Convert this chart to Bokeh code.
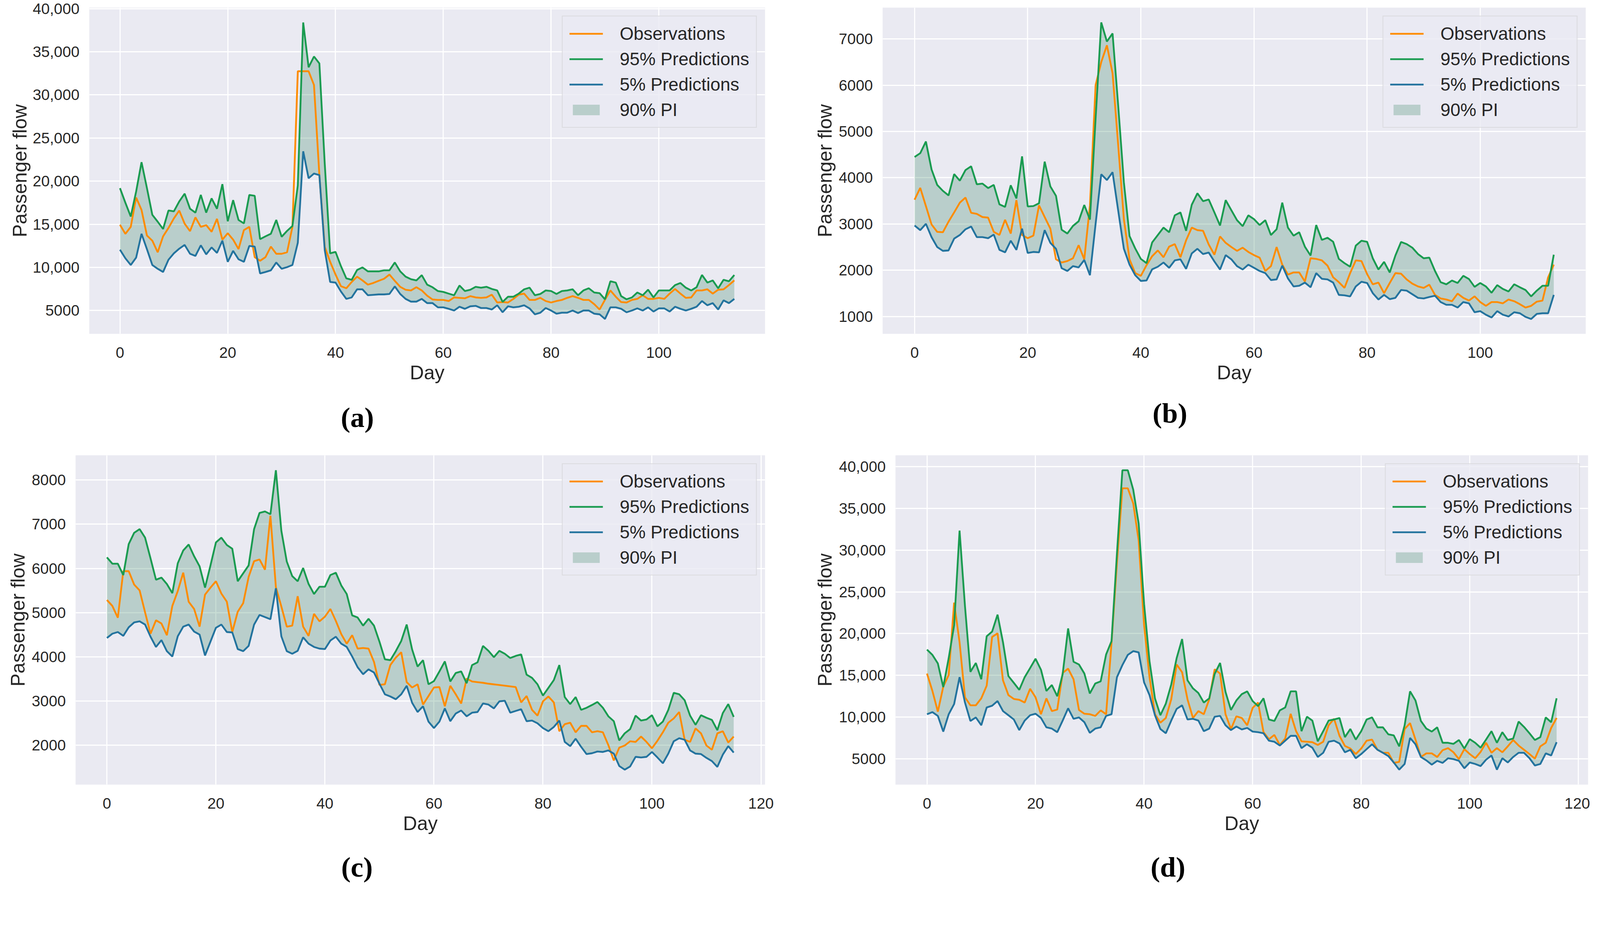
from bokeh.plotting import figure
from bokeh.layouts import column, row
from bokeh.models import FixedTicker, Range1d, Legend, LegendItem, Title
from bokeh.embed import file_html
from bokeh.resources import INLINE

# ---- panel (a) ----
days_a = list(range(115))
obs_a = [14940, 13890, 14700, 18100, 16660, 13700, 13100, 11750, 13600, 14570,
         15680, 16590, 15070, 14200, 15800, 14700, 14900, 14130, 15630, 13220,
         13960, 13220, 12120, 14330, 14700, 11190, 10770, 11190, 12410, 11580,
         11580, 11750, 14700, 32740, 32740, 32740, 31150, 20700, 12370, 10650,
         9170, 7820, 7580, 8310, 8930, 8490, 8000, 8190, 8440, 8680,
         9170, 8440, 7750, 7410, 7330, 7700, 7330, 6720, 6280, 6230,
         6230, 6100, 6520, 6470, 6420, 6670, 6520, 6470, 6520, 6840,
         5930, 5980, 5930, 6350, 6840, 6960, 6230, 6230, 6470, 6100,
         5930, 6100, 6230, 6470, 6670, 6470, 6230, 6230, 5740, 5120,
         6250, 7330, 6600, 5980, 5930, 6230, 6350, 6770, 6350, 6350,
         6470, 6350, 6960, 7500, 6960, 6470, 6520, 7330, 7330, 7460,
         6960, 7410, 7460, 7950, 8490]
upper_a = [19190, 17500, 15900, 18800, 22200, 19200, 16100, 15300, 14450, 16600,
           16500, 17650, 18550, 16800, 16350, 18400, 16350, 18000, 16800, 19650,
           15350, 17800, 15500, 15100, 18400, 18300, 13270, 13600, 13900, 15500,
           13550, 14230, 14800, 19500, 38400, 33200, 34450, 33650, 22000, 11630,
           11800, 10150, 8730, 8560, 9700, 10000, 9540, 9540, 9540, 9660,
           9660, 10570, 9540, 8930, 8630, 8490, 9100, 8000, 7700, 7260,
           7160, 6960, 6770, 7900, 7260, 7410, 7750, 7650, 7750, 7500,
           7330, 6000, 6600, 6600, 6960, 7460, 7650, 6770, 6920, 7330,
           7260, 6920, 7260, 7330, 7460, 6770, 7330, 7580, 7090, 7010,
           6300, 8390, 8240, 6670, 6300, 6520, 7090, 6770, 7410, 6520,
           7330, 7330, 7330, 7950, 8190, 7650, 7330, 7700, 9120, 8240,
           8490, 7580, 8560, 8390, 9120]
lower_a = [12050, 11060, 10280, 11140, 13890, 12120, 10280, 9840, 9470, 10890,
           11630, 12170, 12610, 11580, 11330, 12560, 11510, 12320, 11680, 13100,
           10650, 11920, 10940, 10650, 12490, 12410, 9300, 9470, 9660, 10570,
           9840, 10030, 10280, 12860, 23460, 20340, 20880, 20700, 12000, 8310,
           8240, 7210, 6350, 6520, 7460, 7460, 6770, 6820, 6870, 6870,
           6920, 7800, 6920, 6350, 6030, 6030, 6350, 5860, 5860, 5370,
           5370, 5200, 5000, 5440, 5200, 5490, 5540, 5290, 5290, 5120,
           5610, 4800, 5490, 5370, 5440, 5610, 5250, 4560, 4750, 5290,
           5000, 4630, 4750, 4750, 5000, 4710, 5000, 5000, 4630, 4560,
           4020, 5370, 5370, 5200, 4800, 5000, 5250, 5000, 5370, 4880,
           5250, 5250, 4880, 5440, 5200, 5000, 5200, 5440, 6100, 5610,
           5860, 5120, 6180, 5860, 6350]
xticks_a = [0, 20, 40, 60, 80, 100]
yticks_a = [5000, 10000, 15000, 20000, 25000, 30000, 35000, 40000]
ylabels_a = ["5000", "10,000", "15,000", "20,000", "25,000", "30,000", "35,000", "40,000"]

# ---- panel (b) ----
days_b = list(range(114))
obs_b = [3524, 3780, 3387, 2989, 2829, 2820, 3049, 3250, 3460, 3570,
         3241, 3218, 3149, 3136, 2829, 2761, 3090, 2793, 3515, 2761,
         2692, 2747, 3401, 3149, 2898, 2235, 2166, 2198, 2258, 2541,
         2235, 3400, 6000, 6500, 6863, 6259, 4700, 3100, 2235, 1937,
         1878, 2107, 2303, 2427, 2280, 2509, 2564, 2280, 2646, 2921,
         2866, 2852, 2555, 2335, 2729, 2591, 2500, 2418, 2486, 2395,
         2326, 2271, 1983, 2088, 2500, 2120, 1905, 1951, 1951, 1755,
         2258, 2244, 2212, 2098, 1846, 1741, 1617, 1937, 2212, 2198,
         1915, 1695, 1732, 1503, 1723, 1937, 1924, 1800, 1709, 1649,
         1617, 1686, 1466, 1389, 1366, 1329, 1494, 1402, 1343, 1434,
         1311, 1229, 1311, 1311, 1284, 1366, 1329, 1265, 1192, 1229,
         1320, 1343, 1846, 2120]
upper_b = [4448, 4530, 4782, 4178, 3844, 3716, 3616, 4078, 3936, 4165,
           4247, 3858, 3872, 3776, 3844, 3424, 3369, 3835, 3552, 4462,
           3378, 3387, 3447, 4347, 3812, 3607, 2875, 2793, 2957, 3058,
           3410, 3094, 5276, 7357, 6945, 7119, 5550, 3900, 2738, 2472,
           2244, 2152, 2600, 2761, 2921, 2820, 3186, 3250, 2852, 3415,
           3662, 3492, 3529, 3250, 2966, 3515, 3296, 3081, 2953, 3186,
           3104, 2976, 3081, 2761, 2884, 3460, 2921, 2747, 2820, 2509,
           2317, 2976, 2655, 2701, 2614, 2244, 2152, 2075, 2532, 2637,
           2614, 2258, 2015, 2180, 1951, 2317, 2610, 2564, 2486, 2349,
           2258, 2271, 1983, 1741, 1695, 1777, 1723, 1878, 1809, 1640,
           1723, 1649, 1512, 1677, 1594, 1540, 1695, 1631, 1572, 1434,
           1558, 1663, 1663, 2335]
lower_b = [2966, 2866, 3003, 2715, 2500, 2418, 2427, 2683, 2761, 2884,
           2944, 2715, 2715, 2692, 2770, 2440, 2386, 2637, 2440, 2898,
           2372, 2395, 2386, 2866, 2591, 2463, 2043, 1983, 2088, 2061,
           2221, 1892, 3000, 4073, 3950, 4119, 3286, 2463, 2120, 1892,
           1768, 1777, 2020, 2075, 2166, 2052, 2212, 2235, 2029, 2363,
           2463, 2349, 2381, 2189, 2015, 2326, 2235, 2088, 2015, 2120,
           2052, 1983, 1937, 1787, 1800, 2098, 1823, 1649, 1663, 1732,
           1631, 1937, 1814, 1800, 1732, 1466, 1457, 1434, 1649, 1750,
           1723, 1503, 1366, 1466, 1375, 1402, 1572, 1558, 1480, 1402,
           1389, 1421, 1448, 1311, 1252, 1252, 1192, 1311, 1284, 1091,
           1114, 1037, 977, 1114, 1037, 1000, 1091, 1069, 991, 945,
           1055, 1069, 1069, 1466]
xticks_b = [0, 20, 40, 60, 80, 100]
yticks_b = [1000, 2000, 3000, 4000, 5000, 6000, 7000]
ylabels_b = ["1000", "2000", "3000", "4000", "5000", "6000", "7000"]

# ---- panel (c) ----
days_c = list(range(116))
obs_c = [5285, 5150, 4884, 5937, 5937, 5633, 5502, 5005, 4522, 4826,
         4754, 4488, 5150, 5488, 5903, 5246, 5082, 4681, 5406, 5565,
         5710, 5430, 5246, 4560, 5019, 5213, 5807, 6164, 6203, 5971,
         7193, 5575, 5140, 4681, 4705, 5372, 4681, 4473, 4971, 4802,
         4908, 5082, 4812, 4512, 4295, 4488, 4184, 4198, 4184, 3884,
         3362, 3377, 3812, 3981, 4101, 3425, 3304, 3377, 2918, 3111,
         3304, 3314, 2879, 3343, 3150, 2942, 3507, 3440, 3425, 3410,
         3390, 3375, 3360, 3345, 3330, 3314, 2966, 3111, 2797, 2667,
         2990, 3101, 2966, 2314, 2473, 2507, 2290, 2435, 2435, 2290,
         2314, 2290, 2000, 1652, 1942, 1990, 2087, 2072, 2193, 2072,
         1928, 2097, 2290, 2507, 2604, 2749, 2121, 2072, 2377, 2266,
         1990, 1894, 2266, 2314, 2058, 2193]
upper_c = [6251, 6106, 6106, 5850, 6551, 6807, 6889, 6696, 6227, 5744,
           5792, 5647, 5440, 6116, 6406, 6541, 6275, 6048, 5565, 6068,
           6589, 6696, 6531, 6445, 5710, 5889, 6068, 6889, 7256, 7290,
           7227, 8222, 6855, 6155, 5826, 5710, 6010, 5647, 5420, 5585,
           5585, 5850, 5903, 5614, 5420, 4937, 4889, 4705, 4860, 4705,
           4343, 3942, 3923, 4126, 4357, 4729, 4164, 3778, 3923, 3377,
           3449, 3667, 3894, 3440, 3633, 3667, 3401, 3812, 3874, 4246,
           4135, 3990, 4135, 4068, 3971, 4019, 4053, 3594, 3522, 3377,
           3121, 3295, 3473, 3812, 3087, 2928, 3087, 2797, 2845, 2908,
           2976, 2845, 2652, 2541, 2106, 2266, 2362, 2667, 2556, 2580,
           2676, 2425, 2531, 2797, 3184, 3150, 3015, 2667, 2459, 2676,
           2618, 2570, 2338, 2725, 2928, 2638]
lower_c = [4425, 4522, 4560, 4473, 4667, 4778, 4802, 4729, 4454, 4222,
           4377, 4126, 4005, 4464, 4681, 4729, 4570, 4502, 4029, 4343,
           4657, 4729, 4560, 4551, 4174, 4126, 4246, 4729, 4947, 4899,
           4850, 5551, 4464, 4126, 4068, 4135, 4440, 4295, 4222, 4184,
           4174, 4367, 4454, 4295, 4222, 4005, 3763, 3604, 3715, 3643,
           3391, 3150, 3101, 3039, 3150, 3343, 2957, 2749, 2879, 2531,
           2386, 2531, 2831, 2541, 2715, 2783, 2652, 2734, 2749, 2942,
           2918, 2831, 2990, 3005, 2734, 2773, 2812, 2541, 2556, 2493,
           2386, 2314, 2411, 2556, 2072, 1976, 2145, 1961, 1797, 1816,
           1855, 1845, 1879, 1807, 1527, 1444, 1517, 1734, 1720, 1734,
           1845, 1720, 1589, 1807, 2087, 2155, 2121, 1879, 1807, 1797,
           1710, 1638, 1507, 1783, 1976, 1831]
xticks_c = [0, 20, 40, 60, 80, 100, 120]
yticks_c = [2000, 3000, 4000, 5000, 6000, 7000, 8000]
ylabels_c = ["2000", "3000", "4000", "5000", "6000", "7000", "8000"]

# ---- panel (d) ----
days_d = list(range(117))
obs_d = [15210, 13130, 10650, 13640, 15040, 23710, 18970, 12370, 11410, 11410,
         12240, 13770, 19600, 20030, 14400, 12630, 12170, 12070, 11740, 13390,
         12370, 10340, 12240, 10720, 10900, 15290, 15800, 14530, 10850, 10400,
         10340, 10140, 10800, 10340, 18900, 28500, 37410, 37410, 35590, 31150,
         21000, 14780, 10340, 9330, 9890, 12120, 16300, 15370, 12120, 9890,
         10720, 10340, 12120, 15720, 15210, 10340, 8570, 10090, 9890, 9020,
         11100, 11740, 8190, 7350, 7860, 6660, 7430, 10390, 8310, 7090,
         7040, 6990, 6660, 7040, 9020, 9790, 7750, 6540, 6230, 5570,
         6230, 7170, 7300, 6080, 5720, 5720, 4510, 4630, 8570, 9280,
         7300, 5220, 5650, 5650, 5220, 6030, 6280, 5780, 4960, 6160,
         5570, 5070, 5830, 6920, 5720, 6280, 5780, 6490, 7250, 6590,
         6080, 5570, 5020, 6490, 6920, 8700, 9890]
upper_d = [18080, 17450, 16430, 13590, 17070, 21000, 32340, 23280, 15420, 16480,
           14530, 19680, 20240, 22270, 18970, 14910, 14100, 13260, 14780, 15870,
           16990, 15670, 13130, 13840, 12500, 15160, 20620, 16630, 16300, 15210,
           12830, 14020, 14280, 17500, 19100, 29620, 39570, 39570, 37240, 33180,
           23530, 16680, 12240, 10220, 11610, 13900, 17070, 19350, 14400, 13440,
           12880, 11740, 12240, 15160, 16480, 13010, 10850, 11990, 12750, 13080,
           11920, 11310, 12250, 9710, 9530, 10800, 11150, 13080, 13080, 8310,
           10040, 9580, 7090, 8310, 9580, 9710, 9890, 7600, 8570, 7300,
           8310, 9710, 9960, 8770, 8770, 7930, 7800, 6490, 9020, 13080,
           11990, 9530, 8620, 8260, 8770, 6920, 6920, 6790, 7250, 6230,
           7350, 6920, 6330, 7300, 8310, 6920, 8190, 7250, 7430, 9460,
           8820, 8060, 7250, 7600, 9960, 9380, 12250]
lower_d = [10340, 10600, 10140, 8260, 10340, 11560, 14780, 11740, 9530, 9960,
           9020, 11150, 11360, 11920, 10720, 10220, 9710, 8440, 9580, 10220,
           10400, 9890, 8770, 8620, 8190, 9580, 11050, 9790, 9960, 9380,
           8110, 8620, 8770, 10140, 10340, 14780, 16230, 17450, 17900, 17750,
           14150, 12630, 10220, 8570, 8060, 9580, 10980, 11410, 9710, 9790,
           9580, 8310, 8620, 10040, 10140, 9020, 8440, 8870, 8520, 8700,
           8260, 8190, 8060, 7170, 7040, 6590, 7170, 7750, 7750, 6280,
           6740, 6330, 5220, 5720, 7040, 7170, 6840, 5780, 6080, 5070,
           5570, 6160, 6740, 6080, 5720, 5320, 4560, 3700, 4380, 7500,
           6740, 5220, 4810, 4300, 4760, 4510, 5070, 4960, 4760, 3870,
           4560, 4380, 4130, 4890, 5400, 3700, 5070, 4560, 5220, 5720,
           5720, 5070, 4200, 4380, 5650, 5400, 6990]
xticks_d = [0, 20, 40, 60, 80, 100, 120]
yticks_d = [5000, 10000, 15000, 20000, 25000, 30000, 35000, 40000]
ylabels_d = ["5000", "10,000", "15,000", "20,000", "25,000", "30,000", "35,000", "40,000"]

BG = "#EAEAF2"
ORANGE = "#FF8C00"
GREEN = "#1A9B50"
BLUE = "#23739E"
BAND = "#4A906F"
INK = "#262626"
SANS = "Liberation Sans"

# text sizes are scaled a little to fit the page
S = 0.957


def fs(v):
    return "%.1fpx" % (v * S)


def panel(days, obs, upper, lower, xticks, yticks, ylabels, caption,
          width, height, left, right, top, bottom, ylab_standoff, cap_offset, cap_standoff):
    ymin = min(lower + obs)
    ymax = max(upper + obs)
    ypad = 0.05 * (ymax - ymin)
    xpad = 0.05 * (days[-1] - days[0])
    p = figure(width=width, height=height, output_backend="svg", toolbar_location=None,
               x_range=Range1d(days[0] - xpad, days[-1] + xpad),
               y_range=Range1d(ymin - ypad, ymax + ypad),
               min_border_left=left, min_border_right=right,
               min_border_top=top, min_border_bottom=bottom,
               x_axis_label="Day", y_axis_label="Passenger flow")
    p.background_fill_color = BG
    p.border_fill_color = "white"
    p.outline_line_color = None

    band = p.varea(x=days, y1=lower, y2=upper, fill_color=BAND, fill_alpha=0.3)
    r_obs = p.line(days, obs, line_color=ORANGE, line_width=4.6)
    r_hi = p.line(days, upper, line_color=GREEN, line_width=4.6)
    r_lo = p.line(days, lower, line_color=BLUE, line_width=4.6)

    xt = FixedTicker(ticks=xticks)
    yt = FixedTicker(ticks=yticks)
    p.xaxis.ticker = xt
    p.yaxis.ticker = yt
    p.xgrid.ticker = xt
    p.ygrid.ticker = yt
    p.yaxis.major_label_overrides = dict(zip(yticks, ylabels))
    for g in (p.xgrid, p.ygrid):
        g.grid_line_color = "white"
        g.grid_line_width = 2.8
    for ax in (p.xaxis[0], p.yaxis[0]):
        ax.axis_line_color = None
        ax.major_tick_line_color = None
        ax.minor_tick_line_color = None
        ax.major_tick_in = 0
        ax.major_tick_out = 0
        ax.minor_tick_out = 0
        ax.major_label_text_font = SANS
        ax.major_label_text_font_size = fs(41)
        ax.major_label_text_color = INK
        ax.axis_label_text_font = SANS
        ax.axis_label_text_font_size = fs(52)
        ax.axis_label_text_font_style = "normal"
        ax.axis_label_text_color = INK
    p.xaxis.major_label_standoff = 34
    p.yaxis.major_label_standoff = 25
    p.xaxis.axis_label_standoff = 7
    p.yaxis.axis_label_standoff = ylab_standoff

    legend = Legend(items=[
        LegendItem(label="Observations", renderers=[r_obs]),
        LegendItem(label="95% Predictions", renderers=[r_hi]),
        LegendItem(label="5% Predictions", renderers=[r_lo]),
        LegendItem(label="90% PI", renderers=[band]),
    ], location="top_right")
    legend.margin = 21
    legend.padding = 17
    legend.spacing = 11
    legend.glyph_width = 86
    legend.glyph_height = 34
    legend.label_height = 48
    legend.label_standoff = 43
    legend.label_text_font = SANS
    legend.label_text_font_size = fs(48)
    legend.label_text_color = INK
    legend.background_fill_color = BG
    legend.background_fill_alpha = 0.8
    legend.border_line_color = "#CCCCCC"
    legend.border_line_width = 2
    p.add_layout(legend)

    cap = Title(text=caption, align="left", offset=cap_offset, standoff=cap_standoff,
                text_font="Liberation Serif", text_font_style="bold",
                text_font_size=fs(76), text_color="black")
    p.add_layout(cap, "below")
    return p


pa = panel(days_a, obs_a, upper_a, lower_a, xticks_a, yticks_a, ylabels_a, "(a)",
           2035, 1165, 228, 77, 19, 311, 2, 644, 82)
pb = panel(days_b, obs_b, upper_b, lower_b, xticks_b, yticks_b, ylabels_b, "(b)",
           2035, 1165, 224, 11, 5, 289, 4, 691, 60)
pc = panel(days_c, obs_c, upper_c, lower_c, xticks_c, yticks_c, ylabels_c, "(c)",
           2035, 1184, 193, 77, 0, 341, 4, 680, 77)
pd_ = panel(days_d, obs_d, upper_d, lower_d, xticks_d, yticks_d, ylabels_d, "(d)",
            2035, 1184, 257, 5, 0, 337, 5, 653, 77)

layout = column(row(pa, pb), row(pc, pd_))

open("out.html", "w").write(file_html(layout, INLINE))
